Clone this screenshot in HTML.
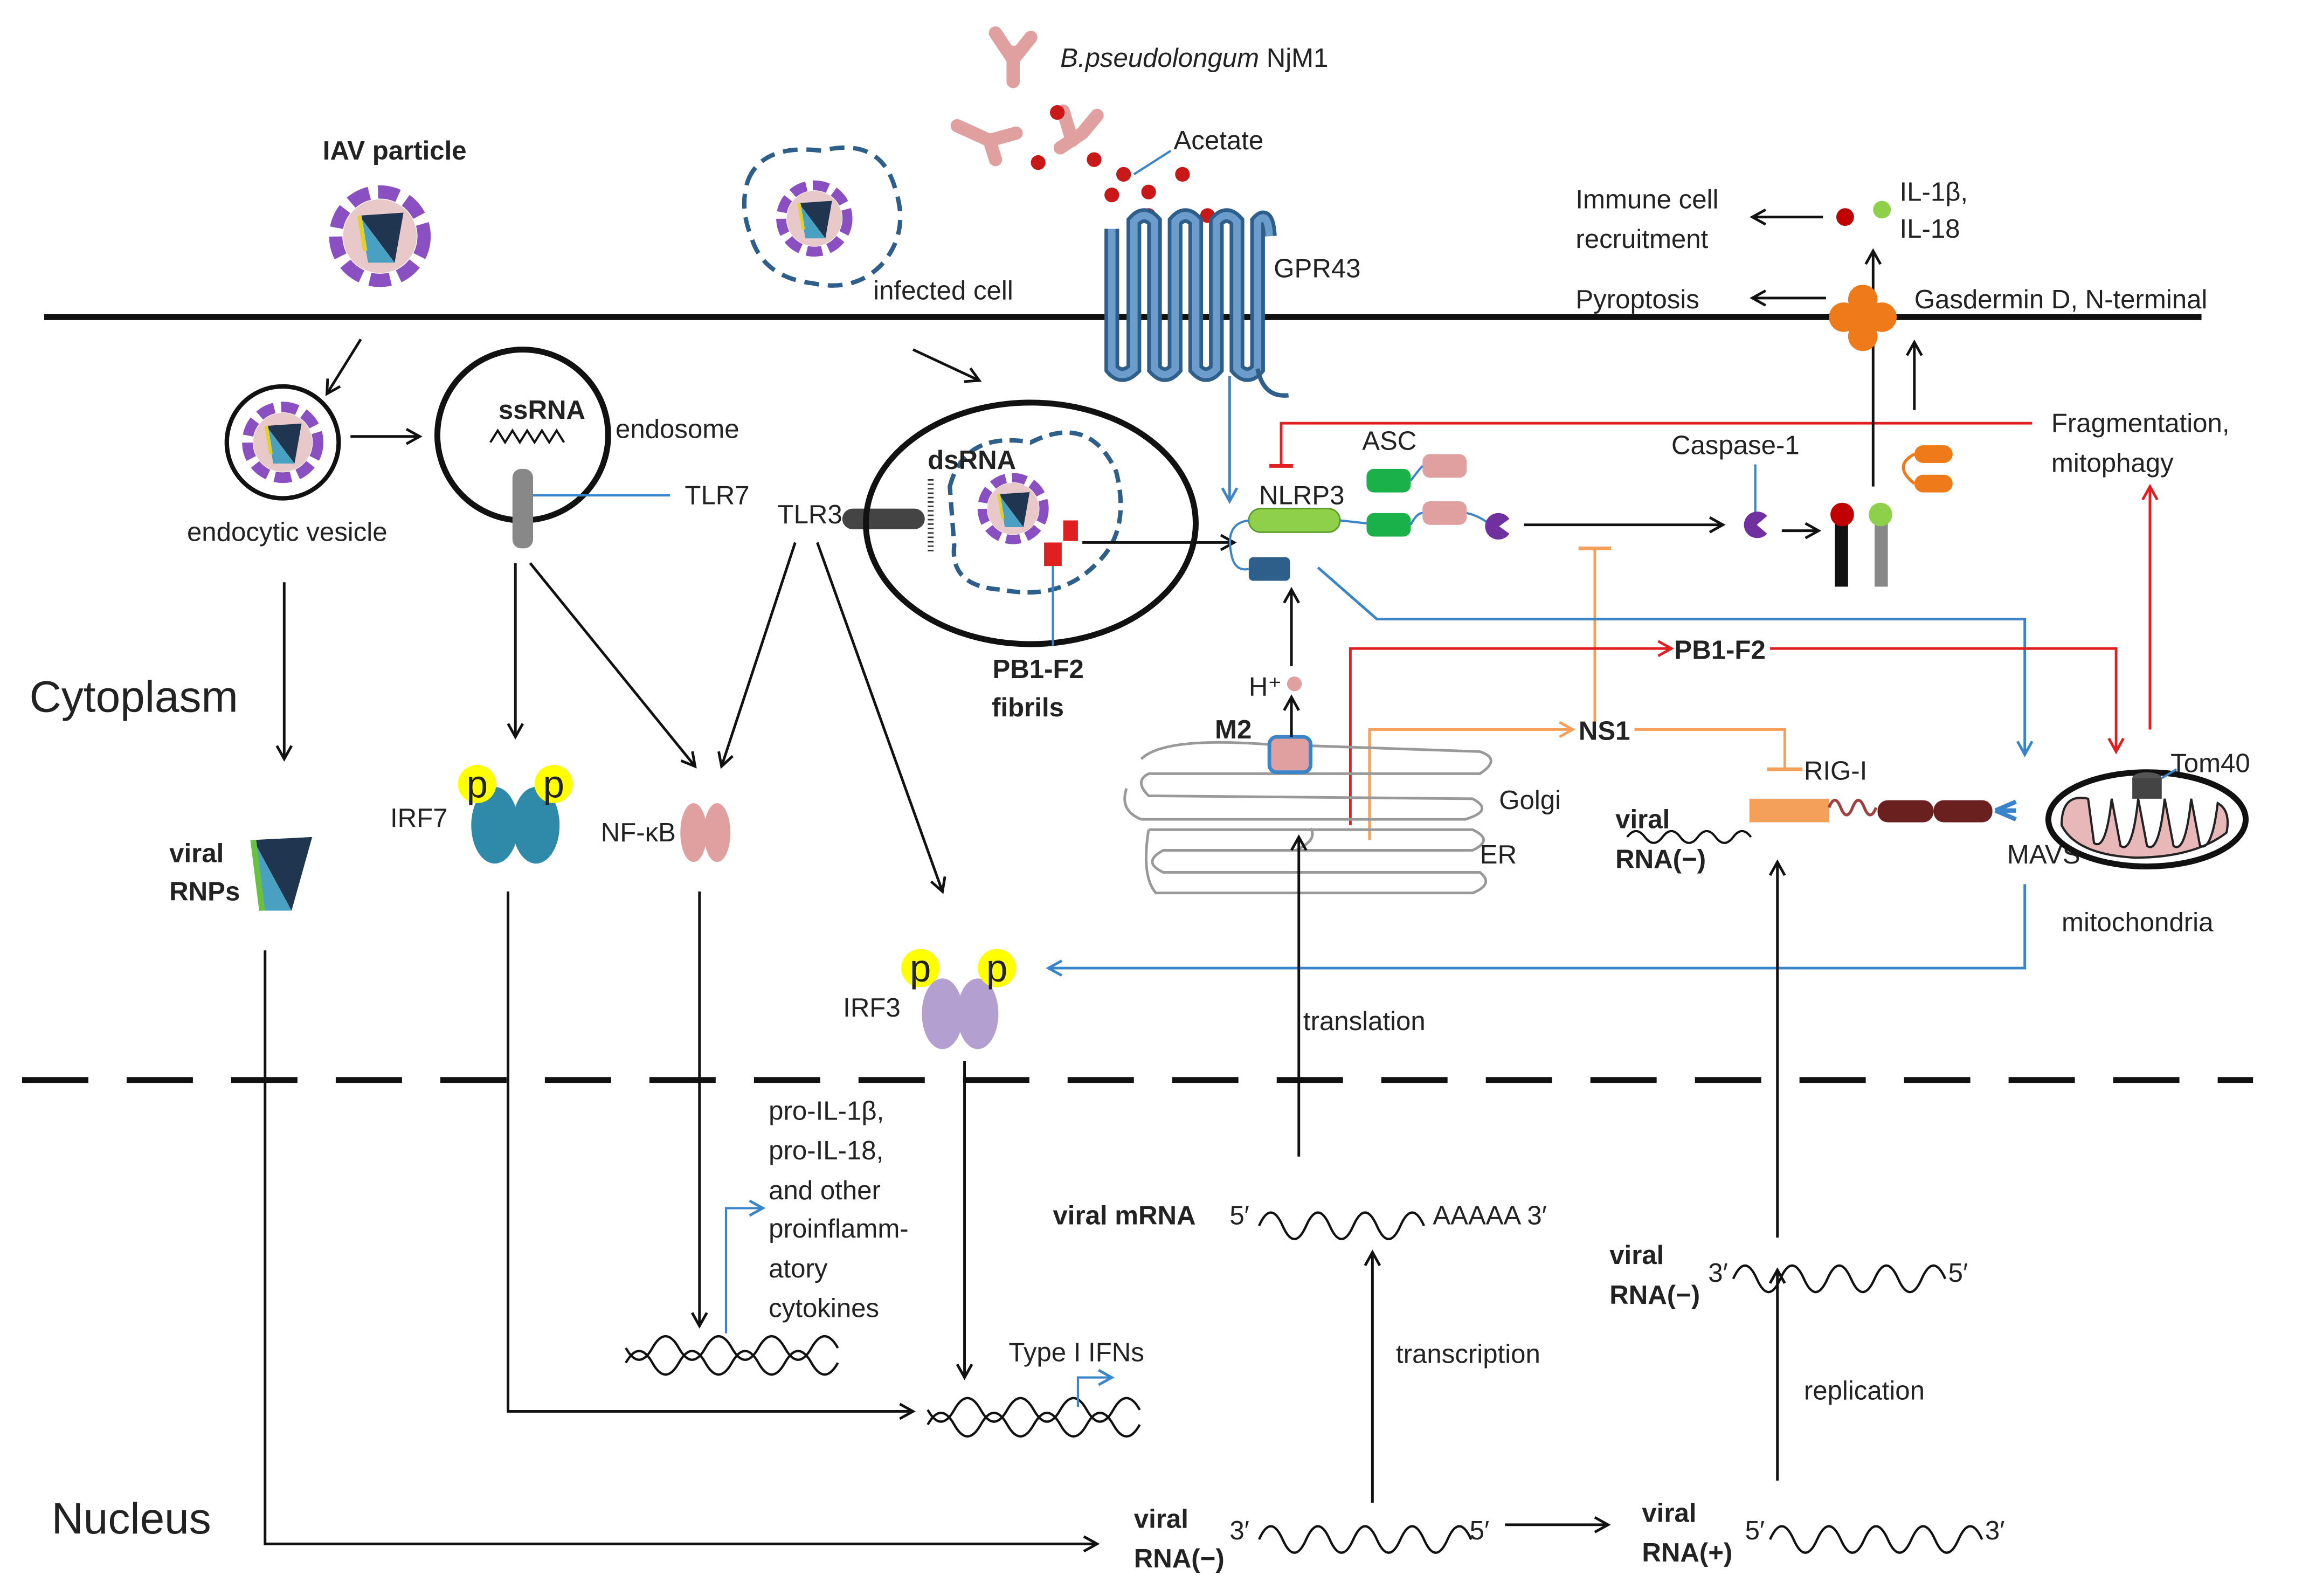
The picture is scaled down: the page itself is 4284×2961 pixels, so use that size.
<!DOCTYPE html>
<html><head><meta charset="utf-8"><style>
html,body{margin:0;padding:0;background:#fff;}
svg{display:block;}
text{font-family:"Liberation Sans",sans-serif;font-size:18px;fill:#222;}
.b{font-weight:bold;}
</style></head><body>
<svg width="4284" height="2961" viewBox="0 0 1568 1083" xmlns="http://www.w3.org/2000/svg">
<defs>
<marker id="ak" markerWidth="12" markerHeight="12" refX="10" refY="6" orient="auto" markerUnits="userSpaceOnUse"><path d="M1,1 L10,6 L1,11" fill="none" stroke="#111" stroke-width="1.8"/></marker>
<marker id="ab" markerWidth="12" markerHeight="12" refX="10" refY="6" orient="auto" markerUnits="userSpaceOnUse"><path d="M1,1 L10,6 L1,11" fill="none" stroke="#3a84c9" stroke-width="1.8"/></marker>
<marker id="ar" markerWidth="12" markerHeight="12" refX="10" refY="6" orient="auto" markerUnits="userSpaceOnUse"><path d="M1,1 L10,6 L1,11" fill="none" stroke="#e02020" stroke-width="1.8"/></marker>
<marker id="ao" markerWidth="12" markerHeight="12" refX="10" refY="6" orient="auto" markerUnits="userSpaceOnUse"><path d="M1,1 L10,6 L1,11" fill="none" stroke="#f5a05a" stroke-width="1.8"/></marker>
<g id="vir">
<circle r="30" fill="#fff" stroke="#8a4fc0" stroke-width="9" stroke-dasharray="14 6"/>
<circle r="25" fill="#e8c8c8"/>
<path d="M-14,-14 L16,-16 L10,18 Z" fill="#1f3550"/>
<path d="M-14,-14 L-8,18 L10,18 Z" fill="#4aa0c0"/>
<path d="M-14,-14 L-10,10" stroke="#e0d030" stroke-width="3"/>
</g>
</defs>

<line x1="30" y1="215" x2="1495" y2="215" stroke="#111" stroke-width="4"/>
<line x1="15" y1="733" x2="1530" y2="733" stroke="#111" stroke-width="4" stroke-dasharray="45 26"/>
<text x="20" y="483" style="font-size:30px">Cytoplasm</text>
<text x="35" y="1041" style="font-size:30px">Nucleus</text>

<text x="268" y="108" class="b" text-anchor="middle">IAV particle</text>
<use href="#vir" x="258" y="160"/>
<line x1="245" y1="230" x2="222" y2="267" stroke="#111" stroke-width="1.8" marker-end="url(#ak)"/>

<circle cx="192" cy="300" r="38" fill="none" stroke="#111" stroke-width="3"/>
<use href="#vir" transform="translate(192 300) scale(.8)"/>
<text x="195" y="367" text-anchor="middle">endocytic vesicle</text>
<line x1="238" y1="296" x2="285" y2="296" stroke="#111" stroke-width="1.8" marker-end="url(#ak)"/>

<circle cx="355" cy="295" r="58" fill="none" stroke="#111" stroke-width="4"/>
<text x="368" y="284" class="b" text-anchor="middle">ssRNA</text>
<path d="M333,300 l5,-8 l5,8 l5,-8 l5,8 l5,-8 l5,8 l5,-8 l5,8 l5,-8 l5,8" fill="none" stroke="#111" stroke-width="1.5"/>
<text x="418" y="297">endosome</text>
<rect x="348" y="318" width="14" height="54" rx="6" fill="#888"/>
<line x1="362" y1="336" x2="455" y2="336" stroke="#3a84c9" stroke-width="1.5"/>
<text x="465" y="342">TLR7</text>
<line x1="350" y1="382" x2="350" y2="500" stroke="#111" stroke-width="1.8" marker-end="url(#ak)"/>
<line x1="360" y1="382" x2="472" y2="520" stroke="#111" stroke-width="1.8" marker-end="url(#ak)"/>
<line x1="193" y1="395" x2="193" y2="515" stroke="#111" stroke-width="1.8" marker-end="url(#ak)"/>

<text x="528" y="355">TLR3</text>
<rect x="572" y="345" width="56" height="14" rx="7" fill="#444"/>
<line x1="540" y1="368" x2="490" y2="520" stroke="#111" stroke-width="1.8" marker-end="url(#ak)"/>
<line x1="555" y1="368" x2="640" y2="605" stroke="#111" stroke-width="1.8" marker-end="url(#ak)"/>
<line x1="620" y1="237" x2="665" y2="258" stroke="#111" stroke-width="1.8" marker-end="url(#ak)"/>

<ellipse cx="700" cy="355" rx="112" ry="82" fill="none" stroke="#111" stroke-width="4"/>
<path d="M645,330 Q655,292 700,300 Q740,280 758,320 Q768,360 745,382 Q720,408 680,400 Q645,398 648,370 Z" fill="none" stroke="#2e5f8a" stroke-width="3" stroke-dasharray="9 5"/>
<text x="630" y="318" class="b">dsRNA</text>
<path d="M632,325 v50" stroke="#333" stroke-width="4" stroke-dasharray="1 2"/>
<use href="#vir" transform="translate(688 345) scale(.7)"/>
<rect x="709" y="368" width="12" height="16" fill="#e02020"/>
<rect x="722" y="353" width="10" height="14" fill="#e02020"/>
<line x1="715" y1="384" x2="715" y2="438" stroke="#3a84c9" stroke-width="1.5"/>
<text x="705" y="460" class="b" text-anchor="middle">PB1-F2</text>
<text x="698" y="486" class="b" text-anchor="middle">fibrils</text>
<line x1="735" y1="368" x2="838" y2="368" stroke="#111" stroke-width="1.8" marker-end="url(#ak)"/>

<path d="M508,122 Q518,97 558,102 Q598,92 608,128 Q618,158 598,180 Q580,198 552,192 Q518,188 510,160 Q502,140 508,122 Z" fill="none" stroke="#2e5f8a" stroke-width="3" stroke-dasharray="10 6"/>
<use href="#vir" transform="translate(553 148) scale(.75)"/>
<text x="593" y="203">infected cell</text>

<g stroke="#e0a0a0" stroke-width="9" stroke-linecap="round" fill="none">
<path d="M688,55 L688,35 M688,40 L676,22 M688,40 L700,25"/>
<path d="M650,85 L672,95 M672,95 L690,90 M672,95 L676,108"/>
<path d="M720,100 L735,90 M728,95 L722,75 M735,90 L745,78"/>
</g>
<text x="720" y="45"><tspan style="font-style:italic">B.pseudolongum</tspan> NjM1</text>
<g fill="#c81818">
<circle cx="718" cy="76" r="5"/><circle cx="705" cy="110" r="5"/><circle cx="743" cy="108" r="5"/>
<circle cx="763" cy="118" r="5"/><circle cx="755" cy="132" r="5"/><circle cx="780" cy="130" r="5"/>
<circle cx="780" cy="146" r="5"/><circle cx="803" cy="118" r="5"/><circle cx="820" cy="146" r="5"/><circle cx="840" cy="152" r="5"/>
</g>
<line x1="770" y1="118" x2="795" y2="102" stroke="#3a84c9" stroke-width="1.5"/>
<text x="797" y="101">Acetate</text>
<path d="M755,155 L755,250 Q762,258 770,250 L770,150 Q777,142 784,150 L784,250 Q791,258 798,250 L798,150 Q805,142 812,150 L812,250 Q819,258 826,250 L826,150 Q833,142 840,150 L840,250 Q847,258 854,250 L854,150 Q861,142 862,160" fill="none" stroke="#2e5f8a" stroke-width="10"/>
<path d="M755,155 L755,250 Q762,258 770,250 L770,150 Q777,142 784,150 L784,250 Q791,258 798,250 L798,150 Q805,142 812,150 L812,250 Q819,258 826,250 L826,150 Q833,142 840,150 L840,250 Q847,258 854,250 L854,150 Q861,142 862,160" fill="none" stroke="#6b9ccc" stroke-width="5"/>
<path d="M854,250 Q858,270 875,268" fill="none" stroke="#2e5f8a" stroke-width="3"/>
<text x="865" y="188">GPR43</text>

<line x1="835" y1="255" x2="835" y2="340" stroke="#3a84c9" stroke-width="1.8" marker-end="url(#ab)"/>
<polyline points="1380,287 870,287 870,316" fill="none" stroke="#e02020" stroke-width="1.8"/>
<line x1="862" y1="316" x2="878" y2="316" stroke="#e02020" stroke-width="2.5"/>
<text x="855" y="342">NLRP3</text>
<rect x="848" y="345" width="62" height="16" rx="8" fill="#8ed04a" stroke="#5a9a2a"/>
<path d="M848,353 Q832,355 836,375 Q838,388 848,386" fill="none" stroke="#3a84c9" stroke-width="1.5"/>
<rect x="848" y="378" width="28" height="16" rx="3" fill="#2e5f8a"/>
<line x1="910" y1="353" x2="928" y2="355" stroke="#3a84c9" stroke-width="1.5"/>
<text x="925" y="305">ASC</text>
<rect x="928" y="318" width="30" height="16" rx="5" fill="#1ab04a"/>
<rect x="928" y="348" width="30" height="16" rx="5" fill="#1ab04a"/>
<rect x="966" y="308" width="30" height="16" rx="5" fill="#e0a0a0"/>
<rect x="966" y="340" width="30" height="16" rx="5" fill="#e0a0a0"/>
<path d="M958,326 Q964,318 966,316 M958,356 Q962,348 966,348 M996,348 Q1005,350 1012,356" fill="none" stroke="#3a84c9" stroke-width="1.5"/>
<path d="M1025,352 A9,9 0 1 0 1025,362 L1018,357 Z" fill="#7030a0"/>
<line x1="1035" y1="356" x2="1170" y2="356" stroke="#111" stroke-width="1.8" marker-end="url(#ak)"/>
<text x="1135" y="308">Caspase-1</text>
<line x1="1192" y1="315" x2="1192" y2="348" stroke="#3a84c9" stroke-width="1.5"/>
<path d="M1200,350 A9,9 0 1 0 1200,362 L1193,356 Z" fill="#7030a0"/>
<line x1="1210" y1="360" x2="1235" y2="360" stroke="#111" stroke-width="1.8" marker-end="url(#ak)"/>
<rect x="1246" y="350" width="9" height="48" fill="#111"/><circle cx="1251" cy="349" r="8" fill="#c00000"/>
<rect x="1273" y="350" width="9" height="48" fill="#888"/><circle cx="1277" cy="349" r="8" fill="#8ed04a"/>
<line x1="1272" y1="330" x2="1272" y2="170" stroke="#111" stroke-width="1.8" marker-end="url(#ak)"/>
<line x1="1300" y1="278" x2="1300" y2="232" stroke="#111" stroke-width="1.8" marker-end="url(#ak)"/>
<rect x="1300" y="302" width="26" height="12" rx="6" fill="#ee7a1a"/>
<rect x="1300" y="322" width="26" height="12" rx="6" fill="#ee7a1a"/>
<path d="M1300,308 Q1285,316 1300,328" fill="none" stroke="#ee7a1a" stroke-width="2"/>
<g fill="#ee7a1a">
<circle cx="1265" cy="203" r="10"/><circle cx="1252" cy="215" r="10"/><circle cx="1278" cy="215" r="10"/><circle cx="1265" cy="228" r="10"/><circle cx="1265" cy="215" r="10"/>
</g>
<text x="1300" y="209">Gasdermin D, N-terminal</text>
<text x="1070" y="209">Pyroptosis</text>
<line x1="1240" y1="202" x2="1190" y2="202" stroke="#111" stroke-width="1.8" marker-end="url(#ak)"/>
<circle cx="1253" cy="147" r="6" fill="#c00000"/><circle cx="1278" cy="142" r="6" fill="#8ed04a"/>
<text x="1290" y="136">IL-1β,</text><text x="1290" y="161">IL-18</text>
<line x1="1238" y1="147" x2="1190" y2="147" stroke="#111" stroke-width="1.8" marker-end="url(#ak)"/>
<text x="1070" y="141">Immune cell</text><text x="1070" y="168">recruitment</text>
<text x="1393" y="293">Fragmentation,</text><text x="1393" y="320">mitophagy</text>

<line x1="1083" y1="490" x2="1083" y2="372" stroke="#f5a05a" stroke-width="1.8"/>
<line x1="1072" y1="372" x2="1094" y2="372" stroke="#f5a05a" stroke-width="2.5"/>
<polyline points="895,385 935,420 1375,420 1375,512" fill="none" stroke="#3a84c9" stroke-width="1.8" marker-end="url(#ab)"/>
<polyline points="917,560 917,440 1135,440" fill="none" stroke="#e02020" stroke-width="1.8" marker-end="url(#ar)"/>
<text x="1137" y="447" class="b">PB1-F2</text>
<polyline points="1202,440 1437,440 1437,510" fill="none" stroke="#e02020" stroke-width="1.8" marker-end="url(#ar)"/>
<line x1="1460" y1="495" x2="1460" y2="330" stroke="#e02020" stroke-width="1.8" marker-end="url(#ar)"/>
<polyline points="930,570 930,495 1068,495" fill="none" stroke="#f5a05a" stroke-width="1.8" marker-end="url(#ao)"/>
<text x="1072" y="502" class="b">NS1</text>
<polyline points="1110,495 1212,495 1212,522" fill="none" stroke="#f5a05a" stroke-width="1.8"/>
<line x1="1200" y1="522" x2="1224" y2="522" stroke="#f5a05a" stroke-width="2.5"/>

<g fill="none" stroke="#999" stroke-width="1.8">
<path d="M775,515 Q790,500 860,505 L1005,510 Q1020,515 1005,525 L780,525 Q770,530 780,540 L1000,542 Q1015,550 995,556 L775,556"/>
<path d="M765,535 Q760,550 775,556"/>
<path d="M780,563 L1000,563 Q1015,570 1000,577 L790,577 Q775,585 790,592 L1005,592 Q1015,600 1000,606 L785,606 Q775,595 780,563"/>
<path d="M880,577 Q895,570 890,562"/>
</g>
<text x="1018" y="549">Golgi</text>
<text x="1005" y="586">ER</text>
<text x="825" y="501" class="b">M2</text>
<rect x="862" y="500" width="28" height="24" rx="5" fill="#e0a0a0" stroke="#3a84c9" stroke-width="2.5"/>
<line x1="877" y1="500" x2="877" y2="473" stroke="#111" stroke-width="1.8" marker-end="url(#ak)"/>
<text x="848" y="472">H⁺</text><circle cx="879" cy="464" r="5" fill="#e0a0a0"/>
<line x1="877" y1="452" x2="877" y2="400" stroke="#111" stroke-width="1.8" marker-end="url(#ak)"/>

<text x="1097" y="562" class="b">viral</text><text x="1097" y="589" class="b">RNA(−)</text>
<path d="M1105,568 q6,-8 12,0 t12,0 t12,0 t12,0 t12,0 t12,0 t12,0" fill="none" stroke="#111" stroke-width="1.5"/>
<rect x="1188" y="542" width="54" height="16" fill="#f5a05a"/>
<text x="1225" y="529">RIG-I</text>
<path d="M1242,548 q4,-10 8,0 t8,0 t8,0 t8,0" fill="none" stroke="#a04040" stroke-width="2"/>
<rect x="1275" y="543" width="38" height="15" rx="7" fill="#6b2020"/>
<rect x="1313" y="543" width="40" height="15" rx="7" fill="#6b2020"/>
<path d="M1355,550 l14,-6 M1355,550 l14,0 M1355,550 l14,6" stroke="#3a84c9" stroke-width="3"/>
<text x="1363" y="586">MAVS</text>
<ellipse cx="1458" cy="556" rx="67" ry="32" fill="#fff" stroke="#111" stroke-width="4"/>
<path d="M1400,560 Q1400,538 1418,542 L1422,572 Q1430,578 1434,542 L1440,574 Q1448,580 1452,542 L1458,574 Q1466,580 1470,542 L1476,574 Q1484,580 1488,542 L1494,574 Q1502,578 1506,545 Q1515,550 1512,565 Q1490,582 1450,582 Q1410,580 1400,560 Z" fill="#e8b8b8" stroke="#222" stroke-width="1.5"/>
<ellipse cx="1458" cy="528" rx="10" ry="4" fill="#555"/>
<rect x="1448" y="528" width="20" height="14" fill="#444"/>
<line x1="1468" y1="528" x2="1478" y2="522" stroke="#3a84c9" stroke-width="1.5"/>
<text x="1474" y="524">Tom40</text>
<text x="1400" y="632">mitochondria</text>
<polyline points="1375,600 1375,657 712,657" fill="none" stroke="#3a84c9" stroke-width="1.8" marker-end="url(#ab)"/>

<ellipse cx="640" cy="688" rx="14" ry="24" fill="#b4a0d0"/><ellipse cx="664" cy="688" rx="14" ry="24" fill="#b4a0d0"/>
<circle cx="625" cy="657" r="13" fill="#ffff00"/><circle cx="677" cy="657" r="13" fill="#ffff00"/>
<text x="625" y="666" text-anchor="middle" style="font-size:26px">p</text><text x="677" y="666" text-anchor="middle" style="font-size:26px">p</text>
<text x="592" y="690" text-anchor="middle">IRF3</text>
<line x1="655" y1="720" x2="655" y2="935" stroke="#111" stroke-width="1.8" marker-end="url(#ak)"/>

<ellipse cx="336" cy="560" rx="16" ry="26" fill="#2e8aa8"/><ellipse cx="364" cy="560" rx="16" ry="26" fill="#2e8aa8"/>
<circle cx="324" cy="532" r="13" fill="#ffff00"/><circle cx="376" cy="532" r="13" fill="#ffff00"/>
<text x="324" y="541" text-anchor="middle" style="font-size:26px">p</text><text x="376" y="541" text-anchor="middle" style="font-size:26px">p</text>
<text x="265" y="561">IRF7</text>
<polyline points="345,605 345,958 620,958" fill="none" stroke="#111" stroke-width="1.8" marker-end="url(#ak)"/>

<ellipse cx="471" cy="565" rx="9" ry="20" fill="#e0a0a0"/><ellipse cx="487" cy="565" rx="9" ry="20" fill="#e0a0a0"/>
<text x="408" y="571">NF-κB</text>
<line x1="475" y1="605" x2="475" y2="900" stroke="#111" stroke-width="1.8" marker-end="url(#ak)"/>

<text x="115" y="585" class="b">viral</text><text x="115" y="611" class="b">RNPs</text>
<path d="M172,570 L212,568 L198,618 Z" fill="#1f3550"/>
<path d="M172,570 L178,618 L198,618 Z" fill="#4aa0c0"/>
<path d="M172,570 L178,618" stroke="#6ac040" stroke-width="4"/>
<polyline points="180,645 180,1048 745,1048" fill="none" stroke="#111" stroke-width="1.8" marker-end="url(#ak)"/>

<text x="522" y="760">pro-IL-1β,</text>
<text x="522" y="787">pro-IL-18,</text>
<text x="522" y="814">and other</text>
<text x="522" y="840">proinflamm-</text>
<text x="522" y="867">atory</text>
<text x="522" y="894">cytokines</text>
<polyline points="493,905 493,820 518,820" fill="none" stroke="#3a84c9" stroke-width="1.5" marker-end="url(#ab)"/>
<g fill="none" stroke="#111" stroke-width="1.6">
<path d="M425,925 q9,-16 18,0 t18,0 t18,0 t18,0 t18,0 t18,0 t18,0 t18,0"/>
<path d="M425,915 q9,16 18,0 t18,0 t18,0 t18,0 t18,0 t18,0 t18,0 t18,0"/>
<path d="M630,967 q9,-16 18,0 t18,0 t18,0 t18,0 t18,0 t18,0 t18,0 t18,0"/>
<path d="M630,957 q9,16 18,0 t18,0 t18,0 t18,0 t18,0 t18,0 t18,0 t18,0"/>
</g>
<text x="685" y="924">Type I IFNs</text>
<polyline points="732,955 732,935 755,935" fill="none" stroke="#3a84c9" stroke-width="1.5" marker-end="url(#ab)"/>

<text x="715" y="831" class="b">viral mRNA</text>
<text x="835" y="831">5′</text>
<path d="M855,832 q8,-18 16,0 t16,0 t16,0 t16,0 t16,0 t16,0 t16,0" fill="none" stroke="#111" stroke-width="1.6"/>
<text x="973" y="831">AAAAA 3′</text>
<line x1="882" y1="785" x2="882" y2="568" stroke="#111" stroke-width="1.8" marker-end="url(#ak)"/>
<text x="885" y="699">translation</text>

<text x="770" y="1037" class="b">viral</text><text x="770" y="1064" class="b">RNA(−)</text>
<text x="835" y="1045">3′</text>
<path d="M855,1045 q8,-18 16,0 t16,0 t16,0 t16,0 t16,0 t16,0 t16,0 t16,0 t16,0" fill="none" stroke="#111" stroke-width="1.6"/>
<text x="998" y="1045">5′</text>
<line x1="1022" y1="1035" x2="1092" y2="1035" stroke="#111" stroke-width="1.8" marker-end="url(#ak)"/>
<line x1="932" y1="1020" x2="932" y2="850" stroke="#111" stroke-width="1.8" marker-end="url(#ak)"/>
<text x="948" y="925">transcription</text>

<text x="1115" y="1033" class="b">viral</text><text x="1115" y="1060" class="b">RNA(+)</text>
<text x="1185" y="1045">5′</text>
<path d="M1202,1045 q8,-18 16,0 t16,0 t16,0 t16,0 t16,0 t16,0 t16,0 t16,0 t16,0" fill="none" stroke="#111" stroke-width="1.6"/>
<text x="1348" y="1045">3′</text>
<line x1="1207" y1="1005" x2="1207" y2="862" stroke="#111" stroke-width="1.8" marker-end="url(#ak)"/>
<text x="1225" y="950">replication</text>

<text x="1093" y="858" class="b">viral</text><text x="1093" y="885" class="b">RNA(−)</text>
<text x="1160" y="870">3′</text>
<path d="M1177,868 q8,-18 16,0 t16,0 t16,0 t16,0 t16,0 t16,0 t16,0 t16,0 t16,0" fill="none" stroke="#111" stroke-width="1.6"/>
<text x="1323" y="870">5′</text>
<line x1="1207" y1="840" x2="1207" y2="585" stroke="#111" stroke-width="1.8" marker-end="url(#ak)"/>
</svg>
</body></html>
